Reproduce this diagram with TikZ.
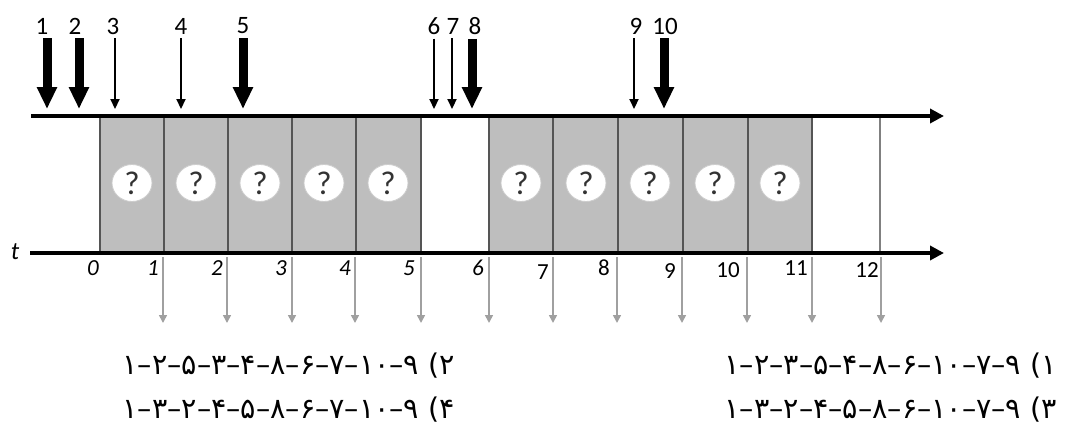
\documentclass[tikz,border=0pt]{standalone}
\usepackage{fontspec}
\setmainfont{Carlito}
\newfontfamily\arabicfont[Script=Arabic]{DejaVu Sans}
\TeXXeTstate=1
\usetikzlibrary{arrows.meta,shapes.geometric}
\definecolor{boxgray}{RGB}{190,190,190}
\definecolor{divgray}{RGB}{85,85,85}
\definecolor{linegray}{RGB}{128,128,128}
\definecolor{arrgray}{RGB}{160,160,160}
\definecolor{rimgray}{RGB}{205,205,205}
\begin{document}
\begin{tikzpicture}[x=1pt,y=-1pt,
  axisline/.style={line width=3.5pt,-{Triangle[length=14pt,width=14pt]}},
  slotfill/.style={fill=boxgray,draw=none},
  divider/.style={draw=divgray,line width=2.8pt},
  qmark/.style={ellipse,fill=white,draw=rimgray,line width=0.8pt,minimum width=40pt,minimum height=37pt,inner sep=0pt,font=\fontsize{33}{33}\selectfont,text=black!80},
  bigarrow/.style={line width=9pt,-{Triangle[length=22pt,width=19pt]}},
  thinarrow/.style={line width=2.2pt,-{Triangle[length=10pt,width=9pt]}},
  downarrow/.style={draw=arrgray,line width=1.6pt,-{Triangle[length=8pt,width=8pt]}},
  toplab/.style={inner sep=0pt,font=\fontsize{25}{25}\selectfont},
  axlab/.style={inner sep=0pt,font=\fontsize{23}{23}\selectfont},
  axlabit/.style={inner sep=0pt,font=\fontsize{23}{23}\selectfont\itshape},
  opt/.style={inner sep=0pt,anchor=east,font=\arabicfont\fontsize{28.5}{28.5}\selectfont}
]
\useasboundingbox (0,0) rectangle (1065,434);

% gray slots
\fill[slotfill] (100,116) rectangle (421,253);
\fill[slotfill] (489,116) rectangle (812,253);

% dividers
\foreach \x in {100,164,228,292,356,421,489,553,618,683,748,812}
  \draw[divider] (\x,116) -- (\x,253);
\draw[draw=linegray,line width=2.4pt] (880,116) -- (880,253);

% question marks
\foreach \x [count=\i] in {132,196,260,324,388,521,586,650,715,780}
  \node[qmark] (q\i) at (\x,183) {?};

% axes
\coordinate (ts) at (31,116);
\coordinate (te) at (944,116);
\draw[axisline] (ts) -- (te);
\coordinate (bs) at (30,253);
\coordinate (be) at (944,253);
\draw[axisline] (bs) -- (be);
\node[inner sep=0pt,font=\fontsize{25}{25}\selectfont\itshape] (t) at (15,252) {t};

% axis labels
\foreach \x/\y/\l in {93/268/0,153/268/1,217/268/2,281/268/3,345/268/4,409/268/5,478/268/6}
  \node[axlabit] (n\l) at (\x,\y) {\l};
\foreach \x/\y/\l in {543/272/7,604/268/8,670/271/9,728/270/10,796/268/11,867/270/12}
  \node[axlab] (n\l) at (\x,\y) {\l};

% output arrows
\foreach \x [count=\i] in {163,227,292,355,421,489,553,617,682,747,812,881}{
  \coordinate (ds\i) at (\x,257);
  \coordinate (de\i) at (\x,323);
  \draw[downarrow] (ds\i) -- (de\i);
}

% arrival labels and arrows
\foreach \lx/\ax/\l/\s in {42/47/1/bigarrow,75/79/2/bigarrow,113/115/3/thinarrow,181/181/4/thinarrow,243/243/5/bigarrow,434/434/6/thinarrow,453/452/7/thinarrow,475/472/8/bigarrow,636/634/9/thinarrow,665/664/10/bigarrow}{
  \node[toplab] (a\l) at (\lx,26) {\l};
  \coordinate (p\l) at (\ax,109);
  \draw[\s,shorten <=4pt] (a\l.south -| p\l) -- (p\l);
}

% options
\node[opt] (o2) at (455,366) {\beginR ۲) ۹–۱۰–۷–۶–۸–۴–۳–۵–۲–۱\endR};
\node[opt] (o4) at (455,410) {\beginR ۴) ۹–۱۰–۷–۶–۸–۵–۴–۲–۳–۱\endR};
\node[opt] (o1) at (1057,366) {\beginR ۱) ۹–۷–۱۰–۶–۸–۴–۵–۳–۲–۱\endR};
\node[opt] (o3) at (1057,410) {\beginR ۳) ۹–۷–۱۰–۶–۸–۵–۴–۲–۳–۱\endR};
\end{tikzpicture}
\end{document}
